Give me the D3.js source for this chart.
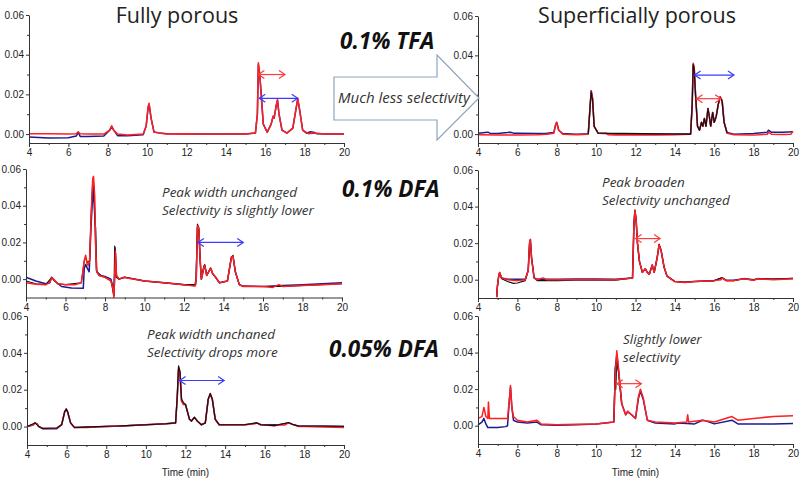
<!DOCTYPE html>
<html><head><meta charset="utf-8">
<script src="https://cdn.jsdelivr.net/npm/d3@7"></script>
<style>
body{margin:0;background:#fff;}
svg{display:block;}
.tick text{font-family:"Liberation Sans",Arial,sans-serif;font-size:10px;fill:#222;}
</style></head>
<body><svg id="c" width="800" height="478"></svg>
<script>
// ---------- data (time in min, absorbance) ----------
const xTicks = [4,6,8,10,12,14,16,18,20];
const yTicks = [0.00,0.02,0.04,0.06];

// Fully porous, 0.1% TFA
const fpTFA_blue = [[4,-0.0015],[5,-0.002],[6,-0.0018],[6.4,-0.001],[6.5,0.0008],[6.6,-0.0012],[7,-0.0012],[7.8,-0.001],[8.1,0.002],[8.2,0.0038],[8.3,0.002],[8.5,-0.0008],[9,-0.0008],[9.8,-0.0004],[9.95,0.004],[10.05,0.013],[10.1,0.015],[10.2,0.008],[10.35,0.001],[10.6,0.0006],[11,0.0002],[12,0],[13,0],[14,0],[15,0],[15.5,0.0005],[15.6,0.01],[15.65,0.035],[15.72,0.03],[15.8,0.02],[15.9,0.005],[16.1,0.001],[16.3,0.005],[16.4,0.009],[16.45,0.008],[16.55,0.014],[16.62,0.017],[16.7,0.01],[16.85,0.002],[17.1,0.0005],[17.4,0.003],[17.55,0.012],[17.65,0.0175],[17.75,0.012],[17.9,0.002],[18.1,0.0004],[18.3,0.0012],[18.5,0.0008],[18.6,0.0002],[19,0],[20,0]];
const fpTFA_red = [[4,0.0002],[5,0.0001],[6,0],[6.4,0.0001],[6.5,0.0012],[6.6,0.0002],[7,0],[7.8,0],[8.1,0.002],[8.2,0.0042],[8.3,0.002],[8.5,0],[9,-0.0005],[9.8,0],[9.95,0.004],[10.05,0.014],[10.1,0.0155],[10.2,0.008],[10.35,0.001],[10.6,0.0005],[11,0],[12,0.0002],[13,-0.0001],[14,0],[15,0],[15.5,0.0005],[15.6,0.01],[15.65,0.036],[15.72,0.03],[15.8,0.018],[15.9,0.005],[16.1,0.0008],[16.3,0.005],[16.4,0.009],[16.45,0.008],[16.55,0.014],[16.62,0.0175],[16.7,0.01],[16.85,0.002],[17.1,0.0005],[17.4,0.003],[17.55,0.012],[17.65,0.018],[17.75,0.012],[17.9,0.002],[18.2,0.0002],[18.5,0.0005],[19,0],[20,0]];

// Superficially porous, 0.1% TFA
const spTFA_blue = [[4,0.0005],[4.5,0.001],[4.6,0.0005],[5,0.0003],[5.5,0.0008],[5.65,0.001],[5.8,0.0005],[6,0.0005],[7,0.0003],[7.5,0.0004],[7.85,0.0008],[7.95,0.005],[8.0,0.006],[8.1,0.002],[8.3,0.0003],[9,0],[9.6,0.0002],[9.7,0.015],[9.75,0.022],[9.82,0.018],[9.9,0.004],[10.1,0.0005],[10.5,0.0003],[11,0],[12,0],[13,0],[14,0],[14.8,0.0002],[14.88,0.015],[14.93,0.035],[14.98,0.034],[15.05,0.02],[15.15,0.004],[15.25,0.002],[15.35,0.006],[15.42,0.004],[15.5,0.008],[15.58,0.004],[15.68,0.013],[15.75,0.009],[15.82,0.004],[15.92,0.011],[16.0,0.006],[16.1,0.009],[16.2,0.015],[16.3,0.019],[16.4,0.017],[16.5,0.006],[16.65,0.0008],[17,0],[18,0.0003],[18.7,0.001],[18.75,0.002],[18.9,0.001],[19.5,0.001],[20,0.0012]];
const spTFA_red = [[4,-0.0003],[5,-0.0005],[6,-0.0005],[7,-0.0003],[7.5,0],[7.85,0.0005],[7.95,0.005],[8.0,0.006],[8.1,0.002],[8.3,0],[9,-0.0003],[9.6,0],[9.7,0.015],[9.75,0.022],[9.82,0.018],[9.9,0.004],[10.1,0.0005],[10.5,0.0005],[10.6,-0.0003],[11,-0.0005],[12,-0.0005],[13,-0.0005],[14,-0.0003],[14.8,0],[14.88,0.015],[14.93,0.036],[14.98,0.034],[15.05,0.02],[15.15,0.004],[15.25,0.002],[15.35,0.006],[15.42,0.004],[15.5,0.008],[15.58,0.004],[15.68,0.013],[15.75,0.009],[15.82,0.004],[15.92,0.011],[16.0,0.006],[16.1,0.009],[16.2,0.015],[16.3,0.019],[16.4,0.017],[16.5,0.006],[16.65,0.0005],[17,-0.0003],[18,-0.0005],[18.7,0],[18.75,0.001],[18.9,0],[19.5,-0.0002],[19.9,0],[20,0.0015]];
const spTFA_black = [[9.6,0],[9.7,0.015],[9.75,0.0215],[9.82,0.017],[9.9,0.004],[10.1,0.0005],[14.8,0],[14.88,0.015],[14.93,0.0355],[14.98,0.033],[15.05,0.02],[15.15,0.004],[15.25,0.002],[15.35,0.006],[15.42,0.004],[15.5,0.008],[15.58,0.004],[15.68,0.013],[15.75,0.009],[15.82,0.004],[15.92,0.011],[16.0,0.006],[16.1,0.009],[16.2,0.015],[16.3,0.0185],[16.4,0.0165],[16.5,0.006],[16.65,0.0005]];

// Fully porous, 0.1% DFA
const fpDFA_blue = [[4,0.001],[4.5,-0.001],[5,-0.0025],[5.2,-0.002],[5.3,0.001],[5.45,-0.001],[5.8,-0.004],[6.3,-0.0048],[6.9,-0.005],[6.95,0.006],[7.02,0.008],[7.1,0.006],[7.2,0.004],[7.3,0.03],[7.4,0.05],[7.48,0.035],[7.58,0.004],[7.8,0.002],[8,0.0015],[8.3,0],[8.4,-0.004],[8.45,-0.009],[8.5,0.004],[8.53,0.014],[8.58,0.002],[8.7,0],[9,0.001],[10,-0.001],[11,-0.002],[12,-0.003],[12.55,-0.0035],[12.62,0],[12.68,0.028],[12.75,0.027],[12.82,0.01],[12.88,0],[13,0.006],[13.05,0.0075],[13.15,0.002],[13.25,0.004],[13.35,0.006],[13.45,0.003],[13.6,0.001],[13.8,-0.002],[14.2,-0.001],[14.4,0.012],[14.48,0.0125],[14.6,0.004],[14.8,-0.003],[15,-0.0038],[16,-0.004],[17,-0.0035],[18,-0.003],[20,-0.002]];
const fpDFA_black = [[4,-0.001],[4.5,-0.0025],[5,-0.003],[5.3,0.001],[5.6,-0.0025],[6,-0.003],[6.8,-0.002],[6.95,0.01],[7.02,0.012],[7.1,0.009],[7.22,0.01],[7.3,0.036],[7.38,0.054],[7.45,0.05],[7.5,0.03],[7.53,0.028],[7.56,0.005],[7.7,0.002],[8,0.001],[8.3,-0.001],[8.45,-0.009],[8.49,0.018],[8.52,0.017],[8.56,0.001],[8.7,0],[9,0.001],[10,-0.001],[12,-0.003],[12.6,-0.003],[12.68,0.03],[12.75,0.028],[12.82,0.01],[12.88,0],[13,0.007],[13.05,0.008],[13.15,0.002],[13.25,0.004],[13.35,0.006],[13.45,0.003],[13.6,0.001],[13.8,-0.002],[14.2,-0.001],[14.4,0.012],[14.48,0.013],[14.6,0.004],[14.8,-0.003],[15,-0.004],[16,-0.004],[17,-0.004],[20,-0.0025]];
const fpDFA_red = [[4,-0.002],[4.5,-0.0028],[5,-0.003],[5.2,-0.002],[5.3,0.0008],[5.4,0],[5.6,-0.0025],[6,-0.003],[6.5,-0.003],[6.8,-0.002],[6.95,0.01],[7.02,0.013],[7.1,0.008],[7.15,0.0075],[7.22,0.01],[7.3,0.035],[7.38,0.055],[7.42,0.056],[7.48,0.045],[7.52,0.02],[7.58,0.004],[7.7,0.002],[8,0.001],[8.3,-0.001],[8.4,-0.005],[8.45,-0.01],[8.5,0.005],[8.53,0.015],[8.58,0.002],[8.7,0],[8.95,0.001],[9.2,0.0005],[10,-0.001],[11,-0.002],[12,-0.003],[12.55,-0.0038],[12.62,0],[12.68,0.029],[12.75,0.028],[12.82,0.01],[12.88,0],[13,0.006],[13.05,0.0075],[13.15,0.002],[13.25,0.004],[13.35,0.006],[13.45,0.003],[13.6,0.001],[13.8,-0.002],[14.2,-0.001],[14.4,0.012],[14.48,0.0125],[14.6,0.004],[14.8,-0.003],[15,-0.004],[16,-0.004],[16.5,-0.0045],[16.8,-0.003],[17,-0.004],[18,-0.0035],[19,-0.003],[20,-0.0025]];

// Superficially porous, 0.1% DFA
const spDFA_blue = [[4.95,-0.0095],[4.98,-0.004],[5.05,0.002],[5.1,0.004],[5.2,0.001],[5.5,0.0003],[6,0.0002],[6.4,0.0003],[6.55,0.005],[6.62,0.02],[6.66,0.022],[6.72,0.012],[6.85,0.001],[7,0.0003],[8,0.0003],[9,0.0004],[10,0.0004],[11,0.0003],[11.85,0.001],[11.92,0.03],[11.97,0.038],[12.03,0.033],[12.1,0.02],[12.2,0.01],[12.35,0.004],[12.5,0.006],[12.6,0.004],[12.7,0.003],[12.85,0.008],[12.95,0.004],[13.1,0.012],[13.2,0.019],[13.3,0.016],[13.45,0.007],[13.6,0.002],[14,-0.001],[14.5,-0.0012],[15,-0.001],[16,-0.0005],[16.4,0.001],[16.6,-0.0003],[17,-0.0003],[17.5,0.0006],[18,0],[18.2,0.0006],[19,0.0002],[20,0.0006]];
const spDFA_black = [[4.95,-0.0095],[4.98,-0.005],[5.05,0.002],[5.1,0.003],[5.2,0.0005],[5.5,-0.001],[5.8,-0.002],[6,-0.0018],[6.4,-0.0005],[6.55,0.005],[6.62,0.02],[6.66,0.0215],[6.72,0.012],[6.85,0.001],[7,-0.0005],[8,-0.0005],[9,-0.0003],[10,-0.0003],[11,-0.0002],[11.85,0.001],[11.92,0.031],[11.97,0.038],[12.03,0.033],[12.1,0.02],[12.2,0.01],[12.35,0.004],[12.5,0.006],[12.6,0.004],[12.7,0.003],[12.85,0.008],[12.95,0.004],[13.1,0.012],[13.2,0.0195],[13.3,0.016],[13.45,0.007],[13.6,0.002],[14,-0.001],[14.5,-0.0015],[15,-0.001],[16,-0.0005],[16.4,0.0012],[16.6,-0.0005],[17,-0.0005],[17.5,0.0005],[18,-0.0003],[18.2,0.0005],[19,0.0003],[20,0.0008]];
const spDFA_red = [[4.95,-0.0095],[4.98,-0.004],[5.05,0.002],[5.1,0.004],[5.2,0.001],[5.5,0],[6,-0.0005],[6.4,0],[6.55,0.005],[6.62,0.02],[6.66,0.022],[6.72,0.012],[6.85,0.001],[7,0],[7.3,0.001],[7.5,0],[8,0],[9,0],[10,0],[11,0],[11.85,0.001],[11.92,0.03],[11.97,0.038],[12.03,0.033],[12.1,0.02],[12.2,0.01],[12.35,0.004],[12.5,0.006],[12.6,0.004],[12.7,0.003],[12.85,0.008],[12.95,0.004],[13.1,0.012],[13.2,0.019],[13.3,0.016],[13.45,0.007],[13.6,0.002],[14,-0.001],[14.5,-0.0015],[15,-0.001],[16,-0.0005],[16.35,0],[16.4,0.001],[16.6,-0.0005],[17,-0.0005],[17.5,0.0005],[18,-0.0003],[18.2,0.0005],[19,0],[20,0.0005]];

// Fully porous, 0.05% DFA
const fpDFA05_blue = [[4,0],[4.3,0.0008],[4.4,0.002],[4.5,0.0015],[4.6,0],[4.8,-0.0012],[5.5,-0.0012],[5.75,0.001],[5.9,0.008],[5.98,0.0095],[6.05,0.008],[6.2,0.002],[6.4,-0.0005],[7,-0.0003],[8,0],[9,0.0005],[10,0.001],[11,0.0015],[11.5,0.002],[11.58,0.015],[11.65,0.031],[11.72,0.029],[11.8,0.014],[11.9,0.012],[12.0,0.012],[12.1,0.008],[12.2,0.004],[12.3,0.003],[12.45,0.005],[12.6,0.003],[12.8,0.001],[13.0,0.002],[13.15,0.015],[13.25,0.0175],[13.35,0.015],[13.5,0.004],[13.7,0.001],[14,0.001],[15,0.001],[15.6,0.002],[15.8,0.001],[16.7,0.001],[17.2,0.002],[17.4,0.0012],[17.7,0.0003],[18,0.0002],[19,0.0002],[20,0]];
const fpDFA05_black = [[4,0],[4.4,0.002],[4.6,0],[4.8,-0.001],[5.5,-0.0008],[5.75,0.001],[5.9,0.008],[5.98,0.0095],[6.05,0.008],[6.2,0.002],[6.4,-0.0005],[7,-0.0003],[8,0.0002],[8.6,0.0003],[9,0.0005],[10,0.001],[11,0.0015],[11.5,0.002],[11.58,0.016],[11.65,0.033],[11.72,0.03],[11.8,0.015],[11.9,0.013],[12.0,0.012],[12.1,0.008],[12.2,0.004],[12.3,0.003],[12.45,0.005],[12.6,0.003],[12.8,0.001],[13.0,0.002],[13.15,0.015],[13.25,0.018],[13.35,0.015],[13.5,0.004],[13.7,0.001],[14,0.001],[15,0.001],[15.6,0.002],[15.8,0.001],[16.5,0.0005],[16.7,0.001],[17.2,0.0022],[17.4,0.0012],[17.7,0.0003],[18,0.0003],[19,0.0003],[20,0.0002]];
const fpDFA05_red = [[4,0],[4.3,0.0008],[4.4,0.002],[4.5,0.0015],[4.6,0],[4.8,-0.001],[5.5,-0.0008],[5.75,0.001],[5.9,0.008],[5.98,0.0095],[6.05,0.008],[6.2,0.002],[6.4,-0.0005],[7,-0.0005],[8,0],[9,0.0005],[10,0.001],[11,0.0015],[11.5,0.002],[11.58,0.015],[11.65,0.032],[11.72,0.03],[11.8,0.014],[11.9,0.012],[12.0,0.012],[12.1,0.008],[12.2,0.004],[12.3,0.003],[12.45,0.005],[12.6,0.003],[12.8,0.001],[13.0,0.002],[13.15,0.015],[13.25,0.018],[13.35,0.015],[13.5,0.004],[13.7,0.001],[14,0.001],[15,0.001],[15.5,0.0015],[15.6,0.002],[15.8,0.001],[16.5,0.0005],[16.7,0.001],[17,0.0008],[17.2,0.002],[17.4,0.0012],[17.7,0],[18,0],[19,-0.0003],[20,-0.0005]];

// Superficially porous, 0.05% DFA
const spDFA05_blue = [[4,0.0005],[4.2,0.002],[4.3,0.004],[4.4,0.001],[4.5,-0.001],[5,-0.001],[5.4,-0.0005],[5.5,0],[5.6,0.015],[5.65,0.021],[5.72,0.01],[5.8,0.003],[6,0.002],[6.5,0.0015],[7,0.002],[7.2,0.0005],[8,0.0003],[9,0.0005],[10,0.001],[10.9,0.002],[10.95,0.02],[10.98,0.032],[11.05,0.039],[11.15,0.029],[11.3,0.012],[11.5,0.006],[11.6,0.0075],[11.8,0.006],[12.0,0.004],[12.15,0.015],[12.25,0.019],[12.4,0.014],[12.6,0.003],[13,0.0015],[14,0.001],[14.2,0.0015],[15,0.001],[15.4,0.003],[15.6,0.0025],[16,0.001],[16.9,0.003],[17.2,0.001],[18,0.001],[19,0.001],[20,0.0012]];
const spDFA05_black = [[10.9,0.002],[10.95,0.025],[10.97,0.032],[11.0,0.02],[11.05,0.035],[11.15,0.028],[11.3,0.012]];
const spDFA05_red = [[4,0.004],[4.2,0.005],[4.3,0.01],[4.4,0.005],[4.5,0.004],[4.53,0.013],[4.58,0.004],[5.0,0.004],[5.5,0.004],[5.6,0.015],[5.65,0.022],[5.72,0.01],[5.8,0.005],[6,0.003],[6.5,0.002],[7.0,0.003],[7.2,0.001],[8,0.0005],[9,0.0008],[10,0.001],[10.9,0.002],[10.95,0.02],[11.0,0.032],[11.05,0.041],[11.15,0.03],[11.3,0.012],[11.5,0.006],[11.6,0.008],[11.8,0.006],[12.0,0.004],[12.15,0.016],[12.25,0.02],[12.4,0.015],[12.6,0.003],[13,0.002],[14,0.0015],[14.6,0.002],[14.65,0.006],[14.7,0.002],[15.4,0.003],[16,0.002],[16.9,0.005],[17.2,0.003],[18,0.004],[19,0.005],[20,0.0055]];

// ---------- layout ----------
const svg = d3.select("#c");
const COL = {red:"#ff1f1f", blue:"#1b1b8f", black:"#111111"};

const panels = [
 {L:29,R:344,T:15,B:143,ymin:-0.0045,series:[[fpTFA_blue,"blue"],[fpTFA_red,"red"]],
  arrows:[{x1:15.65,x2:17.0,y:0.03,c:"#ff3b3b"},{x1:15.7,x2:17.65,y:0.018,c:"#3b3bff"}]},
 {L:478,R:793,T:16,B:143,ymin:-0.0045,hideY:[0.02],series:[[spTFA_blue,"blue"],[spTFA_red,"red"],[spTFA_black,"black"]],
  arrows:[{x1:15.0,x2:17.0,y:0.030,c:"#3b3bff"},{x1:15.1,x2:16.35,y:0.018,c:"#ff3b3b"}]},
 {L:26,R:342,T:169,B:297.5,ymin:-0.01,series:[[fpDFA_blue,"blue"],[fpDFA_black,"black"],[fpDFA_red,"red"]],
  arrows:[{x1:12.7,x2:15.0,y:0.020,c:"#3b3bff"}]},
 {L:478,R:793,T:170,B:298,ymin:-0.01,series:[[spDFA_blue,"blue"],[spDFA_black,"black"],[spDFA_red,"red"]],
  arrows:[{x1:12.0,x2:13.25,y:0.0225,c:"#ff3b3b"}]},
 {L:27,R:344,T:316,B:445,ymin:-0.01,series:[[fpDFA05_blue,"blue"],[fpDFA05_red,"red"],[fpDFA05_black,"black"]],
  arrows:[{x1:11.7,x2:13.95,y:0.025,c:"#3b3bff"}], timeLabel:true},
 {L:478,R:793,T:316,B:444,ymin:-0.01,series:[[spDFA05_blue,"blue"],[spDFA05_black,"black"],[spDFA05_red,"red"]],
  arrows:[{x1:11.05,x2:12.3,y:0.023,c:"#ff3b3b"}], timeLabel:true}
];

panels.forEach(p=>{
  const x = d3.scaleLinear().domain([4,20]).range([p.L,p.R]);
  const y = d3.scaleLinear().domain([p.ymin,0.06]).range([p.B,p.T]);
  const g = svg.append("g");
  const line = d3.line().x(d=>x(d[0])).y(d=>y(d[1]));
  p.series.forEach(([data,c])=>{
    g.append("path").datum(data).attr("d",line).attr("fill","none")
     .attr("stroke",COL[c]).attr("stroke-width", c==="black"?1.1:1.5)
     .attr("stroke-linejoin","round");
  });
  const ax = g.append("g").attr("transform",`translate(0,${p.B})`)
    .call(d3.axisBottom(x).tickValues(xTicks).tickFormat(d3.format("d")).tickSize(4).tickSizeOuter(0));
  g.append("g").attr("transform",`translate(0,${p.B})`)
    .call(d3.axisBottom(x).tickValues([5,7,9,11,13,15,17,19]).tickFormat("").tickSize(2).tickSizeOuter(0))
    .select(".domain").remove();
  const fmt = d3.format(".2f");
  const hide = p.hideY || [];
  const ay = g.append("g").attr("transform",`translate(${p.L},0)`)
    .call(d3.axisLeft(y).tickValues(yTicks).tickFormat(d=>hide.includes(d)?"":fmt(d)).tickSize(3).tickSizeOuter(0));
  g.append("g").attr("transform",`translate(${p.L},0)`)
    .call(d3.axisLeft(y).tickValues([0.01,0.03,0.05]).tickFormat("").tickSize(2).tickSizeOuter(0))
    .select(".domain").remove();
  g.selectAll(".domain").attr("stroke","#333");
  g.selectAll(".tick line").attr("stroke","#333");
  ay.selectAll(".tick text").attr("x",-5);
  ax.selectAll(".tick text").attr("y",6);
  p.arrows.forEach(a=>{
    const x1=x(a.x1), x2=x(a.x2), yy=y(a.y);
    g.append("line").attr("x1",x1).attr("x2",x2).attr("y1",yy).attr("y2",yy)
     .attr("stroke",a.c).attr("stroke-width",1.2);
    g.append("path").attr("d",`M${x1+6},${yy-4} L${x1},${yy} L${x1+6},${yy+4} M${x2-6},${yy-4} L${x2},${yy} L${x2-6},${yy+4}`)
     .attr("fill","none").attr("stroke",a.c).attr("stroke-width",1.2);
  });
  if(p.timeLabel){
    g.append("text").attr("x",(p.L+p.R)/2).attr("y",476).attr("text-anchor","middle")
     .attr("font-family","'Liberation Sans',Arial,sans-serif").attr("font-size",10).attr("fill","#222")
     .text("Time (min)");
  }
});

// big outline arrow (drawn over the top-right panel's axis, as in the reference)
svg.append("path")
  .attr("d","M334,77 L437,77 L437,55 L479,98 L437,140 L437,120 L334,120 Z")
  .attr("fill","#ffffff").attr("stroke","#8da6bd").attr("stroke-width",1.2);
svg.append("text").attr("x",404).attr("y",103).attr("text-anchor","middle")
  .attr("font-family","'Open Sans',sans-serif").attr("font-style","italic")
  .attr("font-size",15).attr("fill","#333").text("Much less selectivity");

// titles
const title = (x,y,t)=>svg.append("text").attr("x",x).attr("y",y).attr("text-anchor","middle")
  .attr("font-family","'Open Sans',sans-serif").attr("font-size",21.5).attr("fill","#222").text(t);
title(177,23,"Fully porous");
title(637,23,"Superficially porous");

const big = (x,y,t)=>svg.append("text").attr("x",x).attr("y",y)
  .attr("font-family","'Open Sans',sans-serif").attr("font-weight","bold").attr("font-style","italic")
  .attr("font-size",22.5).attr("fill","#111").text(t);
big(340,49,"0.1% TFA");
big(342,197,"0.1% DFA");
big(329,357,"0.05% DFA");

const note = (x,y,lines)=>{
  lines.forEach((l,i)=>svg.append("text").attr("x",x).attr("y",y+i*18)
    .attr("font-family","'Open Sans',sans-serif").attr("font-style","italic")
    .attr("font-size",13.5).attr("fill","#333").text(l));
};
note(162,197,["Peak width unchanged","Selectivity is slightly lower"]);
note(602,187,["Peak broaden","Selectivity unchanged"]);
note(147,339,["Peak width unchaned","Selectivity drops more"]);
note(623,344,["Slightly lower","selectivity"]);
</script></body></html>
